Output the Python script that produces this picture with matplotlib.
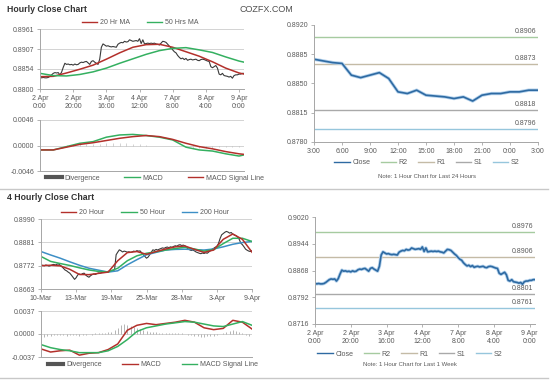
import numpy as np
import matplotlib.pyplot as plt
from matplotlib.lines import Line2D

plt.rcParams["font.family"] = ["Liberation Sans", "DejaVu Sans"]

W, H = 560, 380

# hourly close, 2 Apr 0:00 .. 9 Apr 3:00 (trading hours)
hourly_close = [
    0.8831, 0.8830, 0.8831, 0.8830, 0.8830, 0.8831, 0.8834, 0.8838, 0.8842, 0.8844,
    0.8843, 0.8844, 0.8838, 0.8845, 0.8858, 0.8869, 0.8866, 0.8867, 0.8865, 0.8866,
    0.8864, 0.8867, 0.8865, 0.8866, 0.8870, 0.8872, 0.8871, 0.8873, 0.8874, 0.8870,
    0.8866, 0.8874, 0.8876, 0.8872, 0.8869, 0.8866, 0.8880, 0.8912, 0.8921, 0.8918,
    0.8915, 0.8916, 0.8914, 0.8913, 0.8914, 0.8913, 0.8912, 0.8920, 0.8923, 0.8925,
    0.8924, 0.8928, 0.8926, 0.8927, 0.8932, 0.8930, 0.8928, 0.8929, 0.8930, 0.8928,
    0.8935, 0.8922, 0.8932, 0.8921, 0.8922, 0.8923, 0.8922, 0.8923, 0.8922, 0.8923,
    0.8921, 0.8920, 0.8918, 0.8923, 0.8928, 0.8927, 0.8925, 0.8920, 0.8915, 0.8911,
    0.8905, 0.8900, 0.8897, 0.8890, 0.8885, 0.8881, 0.8883, 0.8879, 0.8882, 0.8877,
    0.8879, 0.8880, 0.8878, 0.8879, 0.8880, 0.8877, 0.8876, 0.8879, 0.8880,
    # last 24 hours (8 Apr 3:00 .. 9 Apr 3:00)
    0.8879, 0.8877, 0.8875, 0.8874, 0.8860, 0.8857, 0.8860, 0.8863, 0.8856, 0.8840,
    0.8838, 0.8842, 0.8836, 0.8835, 0.8834, 0.8832, 0.8834, 0.8829, 0.8836, 0.8838,
    0.8838, 0.8840, 0.8840, 0.8842, 0.8842,
]
hourly_labels = ["2 Apr\n0:00", "2 Apr\n20:00", "3 Apr\n16:00", "4 Apr\n12:00",
                 "7 Apr\n8:00", "8 Apr\n4:00", "9 Apr\n0:00"]

hr_ma_idx = [0, 8, 16, 24, 32, 40, 48, 56, 64, 72, 80, 88, 96, 104, 112, 120, 123]
ma20_hr = [0.8833, 0.8834, 0.8843, 0.8853, 0.8864, 0.8880, 0.8897, 0.8912, 0.8919,
           0.8920, 0.8912, 0.8900, 0.8888, 0.8873, 0.8856, 0.8843, 0.8840]
ma50_hr = [0.8842, 0.8836, 0.8835, 0.8839, 0.8846, 0.8856, 0.8869, 0.8881, 0.8893,
           0.8903, 0.8909, 0.8911, 0.8905, 0.8898, 0.8886, 0.8875, 0.8872]
macd_hr = [-0.0008, -0.0008, -0.0002, 0.0004, 0.0007, 0.0015, 0.0019, 0.0020, 0.0018,
           0.0015, 0.0010, -0.0003, -0.0008, -0.0010, -0.0015, -0.0019, -0.0017]
signal_hr = [-0.0008, -0.0008, -0.0003, 0.0002, 0.0005, 0.0009, 0.0013, 0.0016, 0.0018,
             0.0016, 0.0011, 0.0004, -0.0002, -0.0006, -0.0011, -0.0015, -0.0016]
div_hr = [0.0, 0.0, 0.0, 0.0, 0.0001, 0.0001, 0.0002, 0.0002, 0.0002, 0.0003, 0.0004,
          0.0004, 0.0005, 0.0004, 0.0003, 0.0002, 0.0001, 0.0, 0.0, 0.0, -0.0001,
          -0.0001, -0.0003, -0.0005, -0.0005, -0.0004, -0.0004, -0.0003, -0.0003,
          -0.0003, -0.0003]

day_labels = ["3:00", "6:00", "9:00", "12:00", "15:00", "18:00", "21:00", "0:00", "3:00"]
level_names = ["R2", "R1", "S1", "S2"]
levels_day = [0.8906, 0.8873, 0.8818, 0.8796]
levels_week = [0.8976, 0.8906, 0.8801, 0.8761]

# 4 hourly close, 10 Mar .. 9 Apr
four_close = [
    0.8772, 0.8774, 0.8771, 0.8775, 0.8773, 0.8770, 0.8772, 0.8776, 0.8778, 0.8775,
    0.8779, 0.8780, 0.8774, 0.8768, 0.8760, 0.8752, 0.8748, 0.8742, 0.8737, 0.8728,
    0.8718, 0.8708, 0.8716, 0.8729, 0.8733, 0.8730, 0.8735, 0.8737, 0.8728, 0.8722,
    0.8718, 0.8725, 0.8730, 0.8733, 0.8731, 0.8735, 0.8738, 0.8737, 0.8740, 0.8742,
    0.8744, 0.8740, 0.8746, 0.8744, 0.8748, 0.8750, 0.8752, 0.8823, 0.8835, 0.8846,
    0.8842, 0.8836, 0.8840, 0.8838, 0.8835, 0.8837, 0.8834, 0.8836, 0.8840, 0.8838,
    0.8842, 0.8840, 0.8841, 0.8832, 0.8823, 0.8815, 0.8807, 0.8812, 0.8823, 0.8835,
    0.8846, 0.8843, 0.8848, 0.8845, 0.8849, 0.8852, 0.8855, 0.8853, 0.8857, 0.8859,
    0.8856, 0.8860, 0.8858, 0.8862, 0.8865, 0.8863, 0.8868, 0.8870, 0.8866, 0.8868,
    0.8865, 0.8858, 0.8850, 0.8846, 0.8843, 0.8845, 0.8841, 0.8836, 0.8833, 0.8830,
    0.8828, 0.8831, 0.8829, 0.8832, 0.8830, 0.8836, 0.8842, 0.8849, 0.8853, 0.8858,
    0.8862, 0.8875, 0.8898, 0.8916, 0.8922, 0.8928, 0.8932, 0.8929, 0.8924, 0.8927,
    0.8919, 0.8915, 0.8912, 0.8906, 0.8895, 0.8877, 0.8870, 0.8860, 0.8849, 0.8844,
    0.8840, 0.8838, 0.8842,
]
four_labels = ["10-Mar", "13-Mar", "19-Mar", "25-Mar", "28-Mar", "3-Apr", "9-Apr"]

four_ma_idx = list(range(0, 133, 6))
ma20_4h = [0.8772, 0.8774, 0.8771, 0.8755, 0.8731, 0.8730, 0.8736, 0.8742, 0.8795,
           0.8833, 0.8838, 0.8825, 0.8838, 0.8850, 0.8860, 0.8864, 0.8848, 0.8834,
           0.8845, 0.8895, 0.8920, 0.8895, 0.8835]
ma50_4h = [0.8815, 0.8792, 0.8782, 0.8773, 0.8762, 0.8752, 0.8745, 0.8743, 0.8760,
           0.8795, 0.8818, 0.8830, 0.8837, 0.8845, 0.8852, 0.8858, 0.8850, 0.8840,
           0.8847, 0.8875, 0.8900, 0.8900, 0.8885]
ma200_4h = [0.8838, 0.8822, 0.8807, 0.8790, 0.8774, 0.8760, 0.8751, 0.8742, 0.8748,
            0.8776, 0.8800, 0.8823, 0.8834, 0.8845, 0.8848, 0.8849, 0.8847, 0.8845,
            0.8850, 0.8860, 0.8872, 0.8880, 0.8885]
macd_4h = [-0.0024, -0.0029, -0.0027, -0.0026, -0.0034, -0.0031, -0.0030, -0.0025,
           -0.0016, 0.0006, 0.0014, 0.0017, 0.0015, 0.0017, 0.0019, 0.0022, 0.0019,
           0.0010, 0.0007, 0.0009, 0.0022, 0.0019, 0.0008]
signal_4h = [-0.0017, -0.0022, -0.0025, -0.0027, -0.0030, -0.0030, -0.0030, -0.0027,
             -0.0020, -0.0009, 0.0004, 0.0010, 0.0013, 0.0016, 0.0018, 0.0020, 0.0019,
             0.0016, 0.0013, 0.0012, 0.0016, 0.0020, 0.0014]
div_4h = [-0.0005, -0.0005, -0.0004, -0.0003, -0.0002, -0.0002, -0.0001, -0.0002,
          -0.0003, -0.0002, -0.0001,
          -0.0002, -0.0004, -0.0002, -0.0001, 0.0000, -0.0001, 0.0001, 0.0001, 0.0002, 0.0002,
          0.0003, 0.0004, 0.0006, 0.0010, 0.0014, 0.0016, 0.0015, 0.0013, 0.0011, 0.0009,
          0.0008, 0.0006, 0.0005, 0.0004, 0.0003, 0.0003, 0.0002, 0.0002, 0.0002, 0.0001,
          0.0001, 0.0001, 0.0001, 0.0001, 0.0000, -0.0001, -0.0002, -0.0003, -0.0004, -0.0005,
          -0.0005, -0.0004, -0.0004, -0.0003, -0.0002, 0.0000, 0.0002, 0.0004, 0.0005, 0.0006,
          0.0005, 0.0003, 0.0001, -0.0002, -0.0004, -0.0006]

RED = "#b3302b"
GREEN = "#34b060"
BLUE = "#3d8fc6"
CLOSE = "#2e6aa2"
PRICE = "#3a3a3a"
DIVC = "#a8a8a8"
LEVEL_COLORS = ["#a6cba0", "#c4bba6", "#a9a9a9", "#96c6dc"]
TXT = "#5a5a5a"
FS = 5


def px_axes(fig, x0, y0, x1, y1):
    # axes placed by pixel box (left, top, right, bottom)
    return fig.add_axes([x0 / W, 1 - y1 / H, (x1 - x0) / W, (y1 - y0) / H])


def style(ax, grid=False):
    for s in ["top", "right"]:
        ax.spines[s].set_visible(False)
    for s in ["left", "bottom"]:
        ax.spines[s].set_color("#a6a6a6")
        ax.spines[s].set_linewidth(0.7)
    ax.tick_params(labelsize=FS, colors="#a6a6a6", labelcolor=TXT, length=2, width=0.6, pad=2)
    if grid:
        ax.yaxis.grid(True, color="#cccccc", lw=0.6)
        ax.set_axisbelow(True)


def legend(fig, handles, labels, cx, cy, spacing=2.5):
    fig.legend(handles, labels, loc="center", bbox_to_anchor=(cx / W, 1 - cy / H),
               ncol=len(labels), frameon=False, fontsize=FS, handlelength=2.2,
               columnspacing=spacing, handletextpad=0.4, labelcolor=TXT)


fig = plt.figure(figsize=(W / 100, H / 100), dpi=100)

fig.text(7 / W, 1 - 9 / H, "Hourly Close Chart", fontsize=6.3, weight="bold",
         color="#333333", va="center")
fig.text(239 / W, 1 - 10 / H, "COZFX.COM", fontsize=6.5, color="#505050", va="center")
fig.text(7 / W, 1 - 198 / H, "4 Hourly Close Chart", fontsize=6.3, weight="bold",
         color="#333333", va="center")
for yy in [189, 378]:
    fig.add_artist(Line2D([0, 548 / W], [1 - yy / H] * 2, color="#c8c8c8", lw=1))

# ---- hourly price with MAs
hx = np.arange(len(hourly_close))
ax = px_axes(fig, 40, 29, 244, 89)
style(ax, grid=True)
ax.plot(hx, hourly_close, color=PRICE, lw=0.8)
ax.plot(hr_ma_idx, ma20_hr, color=RED, lw=1.1)
ax.plot(hr_ma_idx, ma50_hr, color=GREEN, lw=1.1)
ax.set_xlim(0, 123)
ax.set_ylim(0.8800, 0.8961)
ax.set_yticks([0.8800, 0.8854, 0.8907, 0.8961])
ax.set_yticklabels(["0.8800", "0.8854", "0.8907", "0.8961"])
ax.set_xticks(range(0, 121, 20))
ax.set_xticklabels(hourly_labels)
legend(fig, [Line2D([], [], color=RED, lw=1), Line2D([], [], color=GREEN, lw=1)],
       ["20 Hr MA", "50 Hrs MA"], 140, 23)

# ---- hourly MACD
ax = px_axes(fig, 40, 120, 244, 171)
style(ax, grid=True)
ax.vlines(range(0, 121, 4), 0, div_hr, color=DIVC, lw=0.5, alpha=0.7)
ax.plot(hr_ma_idx, macd_hr, color=GREEN, lw=1.1)
ax.plot(hr_ma_idx, signal_hr, color=RED, lw=1.1)
ax.set_xlim(0, 123)
ax.set_ylim(-0.0046, 0.0046)
ax.set_yticks([-0.0046, 0.0, 0.0046])
ax.set_yticklabels(["-0.0046", "0.0000", "0.0046"])
ax.set_xticks([])
legend(fig, [Line2D([], [], color="#555555", lw=3), Line2D([], [], color=GREEN, lw=1),
             Line2D([], [], color=RED, lw=1)],
       ["Divergence", "MACD", "MACD Signal Line"], 155, 178, spacing=3.5)


def level_panel(box, values, levels, ylim, yticks, xticks, xlabels, note, leg_cx, leg_cy, note_y):
    ax = px_axes(fig, *box)
    style(ax)
    x = np.arange(len(values))
    for lv, c in zip(levels, LEVEL_COLORS):
        ax.axhline(lv, color=c, lw=1)
        ax.annotate(f"{lv:.4f}", xy=(1, lv), xycoords=("axes fraction", "data"),
                    xytext=(-1, 1.5), textcoords="offset points", ha="right", va="bottom",
                    fontsize=FS, color=TXT)
    ax.plot(x, values, color="#b3d1ec", lw=2.4, solid_capstyle="round")
    ax.plot(x, values, color=CLOSE, lw=1.2)
    ax.set_xlim(0, len(values) - 1)
    ax.set_ylim(*ylim)
    ax.set_yticks(yticks)
    ax.set_yticklabels([f"{t:.4f}" for t in yticks])
    ax.set_xticks(xticks)
    ax.set_xticklabels(xlabels)
    handles = [Line2D([], [], color=CLOSE, lw=1)] + [Line2D([], [], color=c, lw=1)
                                                    for c in LEVEL_COLORS]
    legend(fig, handles, ["Close"] + level_names, leg_cx, leg_cy, spacing=1.5)
    fig.text(leg_cx / W, 1 - note_y / H, note, fontsize=4.3, color=TXT, ha="center", va="center")


level_panel((314, 25, 538, 142), hourly_close[-25:], levels_day, (0.8780, 0.8920),
            [0.8780, 0.8815, 0.8850, 0.8885, 0.8920], range(0, 25, 3), day_labels,
            "Note: 1 Hour Chart for Last 24 Hours", 427, 163, 177)
level_panel((315, 217, 535, 324), hourly_close, levels_week, (0.8716, 0.9020),
            [0.8716, 0.8792, 0.8868, 0.8944, 0.9020], range(0, 121, 20), hourly_labels,
            "Note: 1 Hour Chart for Last 1 Week", 410, 354, 364)

# ---- 4 hourly price with MAs
fx = np.arange(len(four_close))
ax = px_axes(fig, 41, 219, 252, 289)
style(ax, grid=True)
ax.plot(fx, four_close, color=PRICE, lw=0.8)
ax.plot(four_ma_idx, ma200_4h, color=BLUE, lw=1.1)
ax.plot(four_ma_idx, ma50_4h, color=GREEN, lw=1.1)
ax.plot(four_ma_idx, ma20_4h, color=RED, lw=1.1)
ax.set_xlim(0, 132)
ax.set_ylim(0.8663, 0.8990)
ax.set_yticks([0.8663, 0.8772, 0.8881, 0.8990])
ax.set_yticklabels(["0.8663", "0.8772", "0.8881", "0.8990"])
ax.set_xticks(range(0, 133, 22))
ax.set_xticklabels(four_labels)
legend(fig, [Line2D([], [], color=RED, lw=1), Line2D([], [], color=GREEN, lw=1),
             Line2D([], [], color=BLUE, lw=1)],
       ["20 Hour", "50 Hour", "200 Hour"], 145, 213)

# ---- 4 hourly MACD
ax = px_axes(fig, 41, 311, 252, 357)
style(ax, grid=True)
ax.vlines(range(0, 133, 2), 0, div_4h, color=DIVC, lw=0.6)
ax.plot(four_ma_idx, macd_4h, color=RED, lw=1.1)
ax.plot(four_ma_idx, signal_4h, color=GREEN, lw=1.1)
ax.set_xlim(0, 132)
ax.set_ylim(-0.0037, 0.0037)
ax.set_yticks([-0.0037, 0.0, 0.0037])
ax.set_yticklabels(["-0.0037", "0.0000", "0.0037"])
ax.set_xticks([])
legend(fig, [Line2D([], [], color="#555555", lw=3), Line2D([], [], color=RED, lw=1),
             Line2D([], [], color=GREEN, lw=1)],
       ["Divergence", "MACD", "MACD Signal Line"], 153, 365, spacing=3)

fig.savefig("out.png", dpi=100)
